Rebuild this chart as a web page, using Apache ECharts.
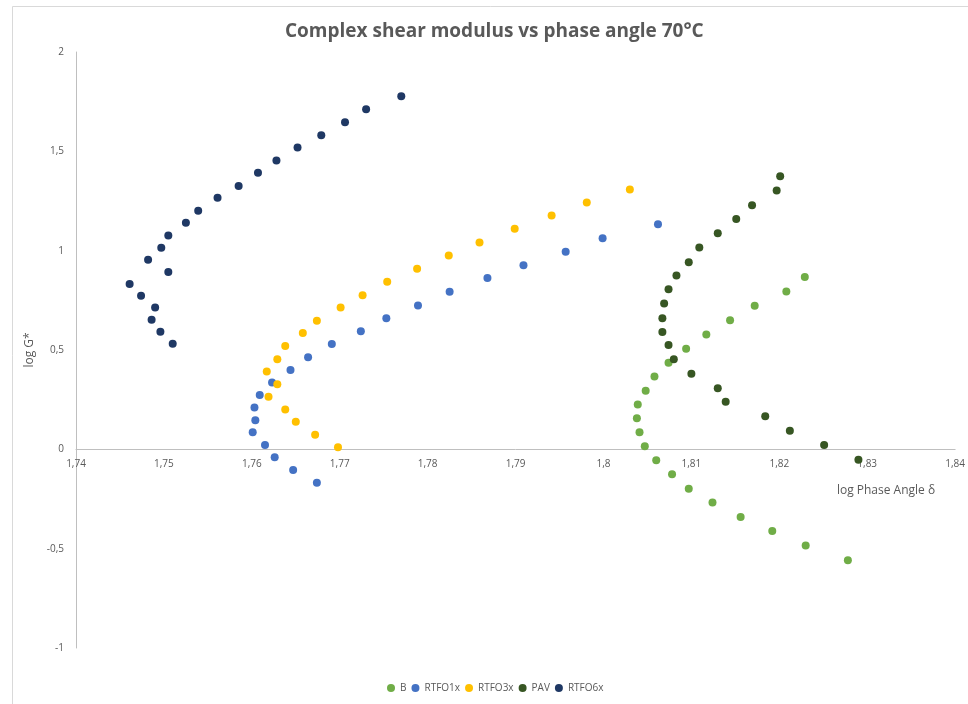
<!DOCTYPE html>
<html>
<head>
<meta charset="utf-8">
<script src="https://cdn.jsdelivr.net/npm/echarts@6/dist/echarts.min.js"></script>
<style>
  html, body { margin: 0; padding: 0; background: #fff; }
  #chart { width: 968px; height: 704px; }
</style>
</head>
<body>
<div id="chart"></div>
<script>
// [log phase angle, log G*]
const seriesNames = ['B', 'RTFO1x', 'RTFO3x', 'PAV', 'RTFO6x'];
const seriesColors = ['#70ad47', '#4472c4', '#ffc000', '#375623', '#1f3864'];

const dataB = [
  [1.8229, 0.867], [1.8208, 0.795], [1.8172, 0.723], [1.8144, 0.650], [1.8117, 0.578],
  [1.8094, 0.506], [1.8074, 0.436], [1.8058, 0.366], [1.8048, 0.295], [1.8039, 0.226],
  [1.8038, 0.156], [1.8041, 0.086], [1.8047, 0.015], [1.8060, -0.055], [1.8078, -0.126],
  [1.8097, -0.198], [1.8124, -0.268], [1.8156, -0.340], [1.8192, -0.411], [1.8230, -0.484],
  [1.8278, -0.558]
];
const dataRTFO1x = [
  [1.8062, 1.133], [1.7999, 1.063], [1.7957, 0.994], [1.7909, 0.926], [1.7868, 0.862],
  [1.7825, 0.793], [1.7789, 0.724], [1.7753, 0.660], [1.7724, 0.595], [1.7691, 0.530],
  [1.7664, 0.464], [1.7644, 0.399], [1.7623, 0.337], [1.7609, 0.273], [1.7603, 0.210],
  [1.7604, 0.147], [1.7601, 0.086], [1.7615, 0.022], [1.7626, -0.040], [1.7647, -0.104],
  [1.7674, -0.168]
];
const dataRTFO3x = [
  [1.8030, 1.308], [1.7981, 1.242], [1.7941, 1.177], [1.7899, 1.110], [1.7859, 1.041],
  [1.7824, 0.976], [1.7788, 0.909], [1.7754, 0.843], [1.7726, 0.776], [1.7701, 0.714],
  [1.7674, 0.647], [1.7658, 0.585], [1.7638, 0.520], [1.7629, 0.454], [1.7617, 0.392],
  [1.7629, 0.328], [1.7619, 0.265], [1.7638, 0.201], [1.7650, 0.139], [1.7672, 0.074],
  [1.7698, 0.010]
];
const dataPAV = [
  [1.8201, 1.375], [1.8197, 1.303], [1.8169, 1.229], [1.8151, 1.160], [1.8130, 1.088],
  [1.8109, 1.016], [1.8097, 0.942], [1.8083, 0.875], [1.8074, 0.806], [1.8069, 0.734],
  [1.8067, 0.660], [1.8067, 0.590], [1.8074, 0.525], [1.8080, 0.454], [1.8100, 0.381],
  [1.8130, 0.308], [1.8139, 0.240], [1.8184, 0.166], [1.8212, 0.094], [1.8251, 0.022],
  [1.8290, -0.052]
];
const dataRTFO6x = [
  [1.7770, 1.777], [1.7730, 1.712], [1.7706, 1.646], [1.7679, 1.581], [1.7652, 1.519],
  [1.7628, 1.454], [1.7607, 1.392], [1.7585, 1.326], [1.7561, 1.266], [1.7539, 1.201],
  [1.7525, 1.140], [1.7505, 1.076], [1.7497, 1.015], [1.7482, 0.954], [1.7505, 0.892],
  [1.7461, 0.832], [1.7474, 0.773], [1.7490, 0.714], [1.7486, 0.652], [1.7496, 0.592],
  [1.7510, 0.532]
];
const allData = [dataB, dataRTFO1x, dataRTFO3x, dataPAV, dataRTFO6x];

const fmt = (v) => String(parseFloat(v.toFixed(2))).replace('.', ',');
const fontFamily = '"Open Sans", "Liberation Sans", sans-serif';

const gridTop = 52, gridBottom = 56, plotH = 704 - gridTop - gridBottom;
const yMin = -1, yMax = 2;
// x axis sits on y = 0, labels included
const xAxisOffset = -plotH * (0 - yMin) / (yMax - yMin);

const chart = echarts.init(document.getElementById('chart'));
const option = {
  backgroundColor: '#fff',
  textStyle: { fontFamily: fontFamily },
  title: {
    text: 'Complex shear modulus vs phase angle 70°C',
    left: 280,
    top: 17,
    textStyle: { fontSize: 19, fontWeight: 'bold', color: '#595959', fontFamily: fontFamily }
  },
  graphic: [{
    type: 'rect',
    shape: { x: 12.5, y: 6.5, width: 960, height: 700 },
    style: { fill: 'none', stroke: '#d9d9d9', lineWidth: 1 },
    silent: true
  }],
  legend: {
    bottom: 6,
    left: 382,
    icon: 'circle',
    itemWidth: 8,
    itemHeight: 8,
    itemGap: 5,
    textStyle: { fontSize: 10, color: '#595959' },
    data: seriesNames
  },
  grid: { left: 76, right: 12, top: gridTop, bottom: gridBottom },
  xAxis: {
    type: 'value',
    min: 1.74,
    max: 1.84,
    interval: 0.01,
    offset: xAxisOffset,
    name: 'log Phase Angle δ',
    nameLocation: 'end',
    nameGap: 0,
    nameTextStyle: {
      fontSize: 12, color: '#595959', align: 'right', verticalAlign: 'top',
      padding: [35, 20, 0, 0]
    },
    axisLine: { onZero: false, lineStyle: { color: '#bfbfbf' } },
    axisTick: { show: false },
    splitLine: { show: false },
    axisLabel: { color: '#595959', fontSize: 10, margin: 10, formatter: fmt }
  },
  yAxis: {
    type: 'value',
    min: yMin,
    max: yMax,
    interval: 0.5,
    name: 'log G*',
    nameLocation: 'middle',
    nameGap: 27,
    nameTextStyle: { fontSize: 12, color: '#595959' },
    axisLine: { show: true, lineStyle: { color: '#bfbfbf' } },
    axisTick: { show: false },
    splitLine: { show: false },
    axisLabel: { color: '#595959', fontSize: 10, margin: 12, formatter: fmt }
  },
  series: seriesNames.map((name, i) => ({
    name: name,
    type: 'scatter',
    symbol: 'circle',
    symbolSize: 8,
    itemStyle: { color: seriesColors[i], opacity: 1 },
    data: allData[i]
  }))
};
chart.setOption(option);
</script>
</body>
</html>
